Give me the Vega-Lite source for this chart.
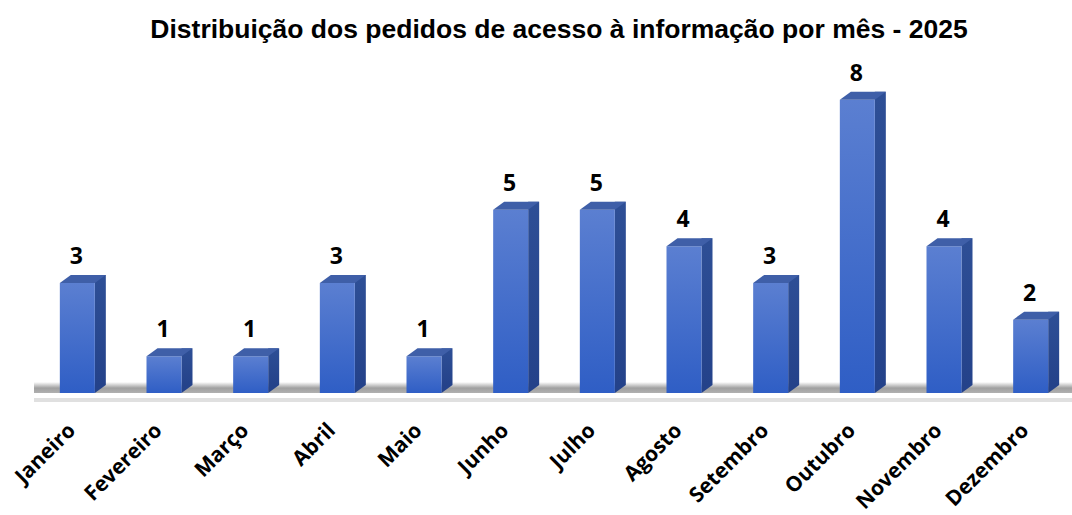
{
  "$schema": "https://vega.github.io/schema/vega-lite/v6.json",
  "autosize": {"type": "none"},
  "width": 1040,
  "height": 330,
  "padding": {"left": 34, "top": 63, "right": 0, "bottom": 122},
  "background": "white",
  "config": {"view": {"stroke": null}},
  "title": {
    "text": "Distribuição dos pedidos de acesso à informação por mês - 2025",
    "font": "Liberation Sans",
    "fontSize": 26.5,
    "fontWeight": "bold",
    "color": "#000000",
    "anchor": "middle",
    "dx": 5,
    "offset": 19
  },
  "data": {
    "values": [
      {"mes": "Janeiro", "pedidos": 3},
      {"mes": "Fevereiro", "pedidos": 1},
      {"mes": "Março", "pedidos": 1},
      {"mes": "Abril", "pedidos": 3},
      {"mes": "Maio", "pedidos": 1},
      {"mes": "Junho", "pedidos": 5},
      {"mes": "Julho", "pedidos": 5},
      {"mes": "Agosto", "pedidos": 4},
      {"mes": "Setembro", "pedidos": 3},
      {"mes": "Outubro", "pedidos": 8},
      {"mes": "Novembro", "pedidos": 4},
      {"mes": "Dezembro", "pedidos": 2}
    ]
  },
  "encoding": {
    "x": {
      "field": "mes",
      "type": "nominal",
      "sort": null,
      "scale": {"paddingInner": 0, "paddingOuter": 0},
      "axis": {
        "title": null,
        "domain": false,
        "ticks": false,
        "labelAngle": -45,
        "labelAlign": "right",
        "labelBaseline": "middle",
        "labelPadding": 34,
        "labelOffset": -5,
        "labelFont": "Open Sans",
        "labelFontWeight": "bold",
        "labelFontSize": 21,
        "labelColor": "#000000"
      }
    }
  },
  "layer": [
    {
      "mark": {
        "type": "rule",
        "yOffset": 7,
        "strokeWidth": 3,
        "color": "#e0e0e0"
      },
      "encoding": {"x": null, "y": {"datum": 0, "type": "quantitative", "scale": {"domain": [0, 9]}, "axis": null}}
    },
    {
      "mark": {
        "type": "rect",
        "y2Offset": -11,
        "fill": {
          "gradient": "linear",
          "x1": 0, "y1": 1, "x2": 0, "y2": 0,
          "stops": [
            {"offset": 0, "color": "#b0b0b0"},
            {"offset": 0.45, "color": "#a0a0a0"},
            {"offset": 1, "color": "#ffffff"}
          ]
        }
      },
      "encoding": {
        "x": null,
        "y": {"datum": 0, "type": "quantitative"},
        "y2": {"datum": 0}
      }
    },
    {
      "mark": {
        "type": "bar",
        "width": 11,
        "xOffset": 23,
        "yOffset": -8,
        "y2Offset": -8,
        "fill": {
          "gradient": "linear",
          "x1": 0, "y1": 0, "x2": 0, "y2": 1,
          "stops": [
            {"offset": 0, "color": "#2e4f96"},
            {"offset": 1, "color": "#24428a"}
          ]
        }
      },
      "encoding": {"y": {"field": "pedidos", "type": "quantitative"}}
    },
    {
      "mark": {
        "type": "point",
        "shape": "M17.5,0L28.5,-8L17.5,-8Z",
        "size": 4,
        "filled": true,
        "opacity": 1,
        "strokeWidth": 0,
        "color": "#24428a"
      },
      "encoding": {"y": {"datum": 0, "type": "quantitative"}}
    },
    {
      "mark": {
        "type": "bar",
        "width": 35,
        "fill": {
          "gradient": "linear",
          "x1": 0, "y1": 0, "x2": 0, "y2": 1,
          "stops": [
            {"offset": 0, "color": "#5b7fd1"},
            {"offset": 1, "color": "#2f5ec5"}
          ]
        }
      },
      "encoding": {"y": {"field": "pedidos", "type": "quantitative"}}
    },
    {
      "mark": {
        "type": "point",
        "shape": "M-17.5,0L17.5,0L28.5,-8L-6.5,-8Z",
        "size": 4,
        "filled": true,
        "opacity": 1,
        "strokeWidth": 0,
        "color": "#3f5fa8"
      },
      "encoding": {"y": {"field": "pedidos", "type": "quantitative"}}
    },
    {
      "mark": {
        "type": "text",
        "baseline": "alphabetic",
        "align": "center",
        "dy": -19,
        "dx": -1,
        "font": "Open Sans",
        "fontWeight": "bold",
        "fontSize": 23,
        "color": "#000000"
      },
      "encoding": {
        "y": {"field": "pedidos", "type": "quantitative"},
        "text": {"field": "pedidos", "type": "quantitative"}
      }
    }
  ]
}
